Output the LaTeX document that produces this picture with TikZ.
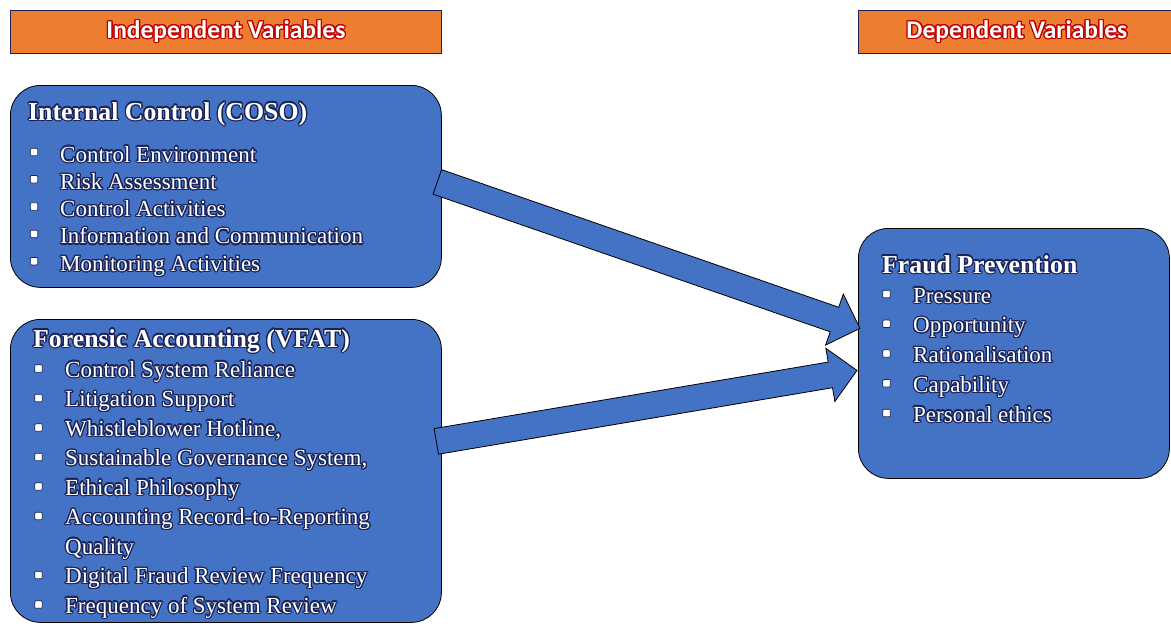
\documentclass[tikz,border=0pt]{standalone}
\usepackage{fontspec}
\setmainfont{Liberation Serif}
\newfontfamily\headfont{Carlito}
\usepackage{xcolor}
\usepackage[copies]{contour}
\contourlength{1.2pt}
\contournumber{20}
\usetikzlibrary{calc}

\definecolor{boxblue}{HTML}{4472C4}
\definecolor{headorange}{HTML}{ED7D31}
\definecolor{glowblue}{HTML}{1A2458}
\definecolor{glowred}{HTML}{C00000}
\newcommand\glow[1]{\contour{glowblue}{#1}}
\newcommand\hglow[1]{\contour{glowred}{#1}}
% block arrow from #1 to #2
\newcommand\blockarrow[2]{%
  \draw[blockarr] let \p1=($(#2)-(#1)$), \n1={atan2(\y1,\x1)}, \n2={veclen(\x1,\y1)} in
    [shift={(#1)}, rotate=\n1]
    (0,-13) -- ({\n2-27},-13) -- ({\n2-27},-27) -- (\n2,0) -- ({\n2-27},27) -- ({\n2-27},13) -- (0,13) -- cycle;}

\begin{document}
\begin{tikzpicture}[
  x=1pt, y=-1pt,
  headbox/.style={draw=glowblue, line width=0.8pt, fill=headorange, anchor=north west, minimum height=43pt,
    inner sep=0, text=white, font=\headfont\bfseries\fontsize{25.5}{30}\selectfont},
  varbox/.style={draw=black, line width=0.8pt, fill=boxblue, rounded corners=30pt, anchor=north west, inner sep=0},
  boxtitle/.style={anchor=base west, inner sep=0, text=white, font=\bfseries\fontsize{25.8}{30}\selectfont},
  itemtext/.style={anchor=base west, inner sep=0, text=white, font=\fontsize{23}{27}\selectfont},
  sqbullet/.style={draw=glowblue, line width=0.7pt, fill=white, minimum size=7.5pt, inner sep=0, rounded corners=1pt},
  blockarr/.style={draw=black, line width=0.8pt, fill=boxblue, line join=miter}
]
  \useasboundingbox (0,0) rectangle (1171,624);

  % headers
  \node[headbox, minimum width=431pt] (indep) at (10,10) {\hglow{Independent Variables}};
  \node[headbox, minimum width=317pt] (dep) at (858,10) {\hglow{Dependent Variables}};

  % boxes
  \node[varbox, minimum width=431pt, minimum height=202pt] (coso) at (10,85) {};
  \node[varbox, minimum width=431pt, minimum height=303pt] (vfat) at (10,319) {};
  \node[varbox, minimum width=311pt, minimum height=250pt] (fraud) at (858,228) {};

  % internal control
  \node[boxtitle] (cosot) at ([shift={(18,35)}]coso.north west) {\glow{Internal Control (COSO)}};
  \foreach \t [count=\i from 0] in {Control Environment, Risk Assessment, Control Activities,
      Information and Communication, Monitoring Activities}{
    \node[itemtext] (coso\i) at ([shift={(50,{77+\i*27.3})}]coso.north west) {\glow{\t}};
    \node[sqbullet] at ([shift={(24,{67+\i*27.3})}]coso.north west) {};
  }

  % forensic accounting
  \node[boxtitle] (vfatt) at ([shift={(23,28)}]vfat.north west) {\glow{Forensic Accounting (VFAT)}};
  \foreach \t/\r in {Control System Reliance/0, Litigation Support/1, Whistleblower Hotline{,}/2,
      Sustainable Governance System{,}/3, Ethical Philosophy/4, Accounting Record-to-Reporting/5,
      Digital Fraud Review Frequency/7, Frequency of System Review/8}{
    \node[itemtext] (vfat\r) at ([shift={(55,{58+\r*29.5})}]vfat.north west) {\glow{\t}};
    \node[sqbullet] at ([shift={(28.5,{49.5+\r*29.5})}]vfat.north west) {};
  }
  \node[itemtext] (vfat6) at ([shift={(55,{58+6*29.5})}]vfat.north west) {\glow{Quality}};

  % fraud prevention
  \node[boxtitle] (fraudt) at ([shift={(24,45)}]fraud.north west) {\glow{Fraud Prevention}};
  \foreach \t [count=\i from 0] in {Pressure, Opportunity, Rationalisation, Capability, Personal ethics}{
    \node[itemtext] (fraud\i) at ([shift={(55,{75+\i*29.75})}]fraud.north west) {\glow{\t}};
    \node[sqbullet] at ([shift={(28.5,{66+\i*29.75})}]fraud.north west) {};
  }

  % arrows
  \coordinate (cosoout) at ([shift={(-4.5,-4.5)}]coso.east);
  \coordinate (vfatout) at ([shift={(-5.5,-29.5)}]vfat.east);
  \coordinate (fraudin1) at ([shift={(2,-25)}]fraud.west);
  \coordinate (fraudin2) at ([shift={(-1,17)}]fraud.west);
  \blockarrow{cosoout}{fraudin1}
  \blockarrow{vfatout}{fraudin2}
\end{tikzpicture}
\end{document}
